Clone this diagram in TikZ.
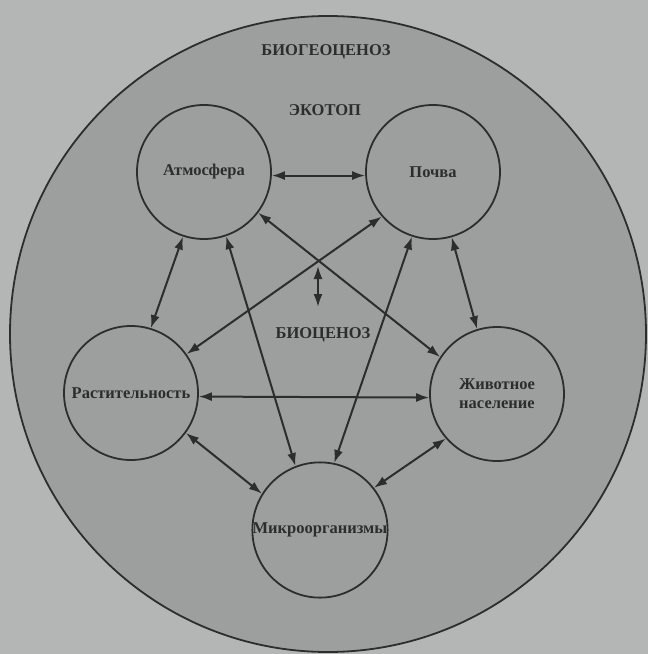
\documentclass[tikz,border=0pt]{standalone}
\usepackage{fontspec}
\setmainfont{Liberation Serif}
\usetikzlibrary{arrows.meta}
\definecolor{outerbg}{RGB}{180,182,182}
\definecolor{innerbg}{RGB}{157,159,159}
\definecolor{ink}{RGB}{45,45,45}
\begin{document}
\begin{tikzpicture}[x=1pt,y=-1pt,
  txt/.style={text=ink,font=\bfseries\fontsize{16.5}{19}\selectfont},
  circ/.style={circle,draw=ink,line width=1.8pt,minimum size=134pt,inner sep=0pt,txt,align=center},
  conn/.style={{Latex[length=13pt,width=9pt]}-{Latex[length=13pt,width=9pt]},draw=ink,line width=2pt}]
\fill[outerbg] (0,0) rectangle (648,654);
\useasboundingbox (0,0) rectangle (648,654);
\node[circle,draw=ink,fill=innerbg,line width=1.8pt,minimum size=636pt,inner sep=0pt] (bgc) at (328,334) {};
\node[txt] (tbgc) at (326,52) {БИОГЕОЦЕНОЗ};
\node[txt] (teco) at (325,110) {ЭКОТОП};
\node[txt] (tbio) at (323,335) {БИОЦЕНОЗ};
\node[circ] (atm) at (204,172) {\raisebox{-3pt}{Атмосфера}};
\node[circ] (poch) at (433,172) {\raisebox{-3pt}{Почва}};
\node[circ] (rast) at (131,393) {\raisebox{-2pt}{Растительность}};
\node[circ] (anim) at (497,394) {Животное\\население};
\node[circ] (micro) at (320,530) {Микроорганизмы};
\draw[conn] (atm.-3) -- (poch.183);
\draw[conn] (atm.252) -- (rast.73);
\draw[conn] (atm.289) -- (micro.111);
\draw[conn] (atm.323) -- (anim.147);
\draw[conn] (poch.221) -- (rast.35);
\draw[conn] (poch.252) -- (micro.78);
\draw[conn] (poch.286) -- (anim.107);
\draw[conn] (rast.-3) -- (anim.183);
\draw[conn] (rast.324) -- (micro.148);
\draw[conn] (anim.221) -- (micro.38);
\coordinate (b1) at (318,266);
\coordinate (b2) at (318,307);
\draw[conn] (b1) -- (b2);
\end{tikzpicture}
\end{document}
